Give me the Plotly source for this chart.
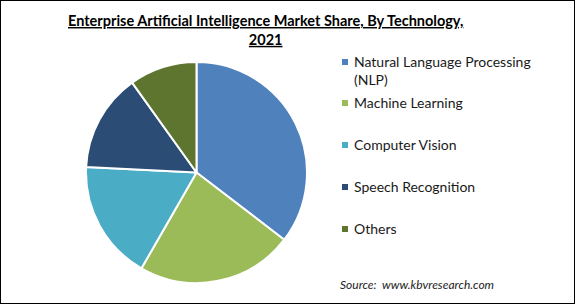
import plotly.graph_objects as go

labels = ["Natural Language Processing (NLP)", "Machine Learning", "Computer Vision",
          "Speech Recognition", "Others"]
legend_text = ["Natural Language Processing<br>(NLP)", "Machine Learning", "Computer Vision",
               "Speech Recognition", "Others"]
values = [35.4, 22.9, 17.5, 14.3, 9.9]
colors = ["#4F81BD", "#9BBB59", "#4BACC6", "#2B4C74", "#5E7530"]

W, H = 575, 304
fig = go.Figure(go.Pie(
    labels=labels, values=values, sort=False, direction="clockwise", rotation=0,
    marker=dict(colors=colors, line=dict(color="white", width=2)),
    textinfo="none", hoverinfo="label+percent",
    domain=dict(x=[86 / W, 307 / W], y=[1 - 283 / H, 1 - 62 / H]),
))

font = "Lato, 'Open Sans', sans-serif"
fig.add_annotation(
    text="<b><u>Enterprise Artificial Intelligence Market Share, By Technology,</u></b><br><b><u>2021</u></b>",
    x=265 / W, y=1 - 10 / H, xref="paper", yref="paper", xanchor="center", yanchor="top",
    showarrow=False, font=dict(family=font, size=14.5, color="black"), align="center",
)

leg_y = [62, 103, 145, 187, 229]
for txt, c, y in zip(legend_text, colors, leg_y):
    fig.add_shape(type="rect", xref="paper", yref="paper",
                  x0=342 / W, x1=348 / W, y0=1 - (y + 3) / H, y1=1 - (y - 3) / H,
                  fillcolor=c, line=dict(width=0))
    fig.add_annotation(text=txt, x=352 / W, y=1 - (y - 11) / H, xref="paper", yref="paper",
                       xanchor="left", yanchor="top", showarrow=False, align="left",
                       font=dict(family=font, size=14, color="#1a1a1a"))

fig.add_annotation(text="<i>Source:  www.kbvresearch.com</i>", x=338 / W, y=1 - 284 / H,
                   xref="paper", yref="paper", xanchor="left", yanchor="middle",
                   showarrow=False, font=dict(family=font, size=12, color="#222"))

fig.add_shape(type="rect", xref="paper", yref="paper", x0=0, x1=1, y0=0, y1=1,
              line=dict(color="black", width=2))

fig.update_layout(width=W, height=H, margin=dict(l=0, r=0, t=0, b=0),
                  paper_bgcolor="white", plot_bgcolor="white", showlegend=False)
fig.write_html("out.html")
